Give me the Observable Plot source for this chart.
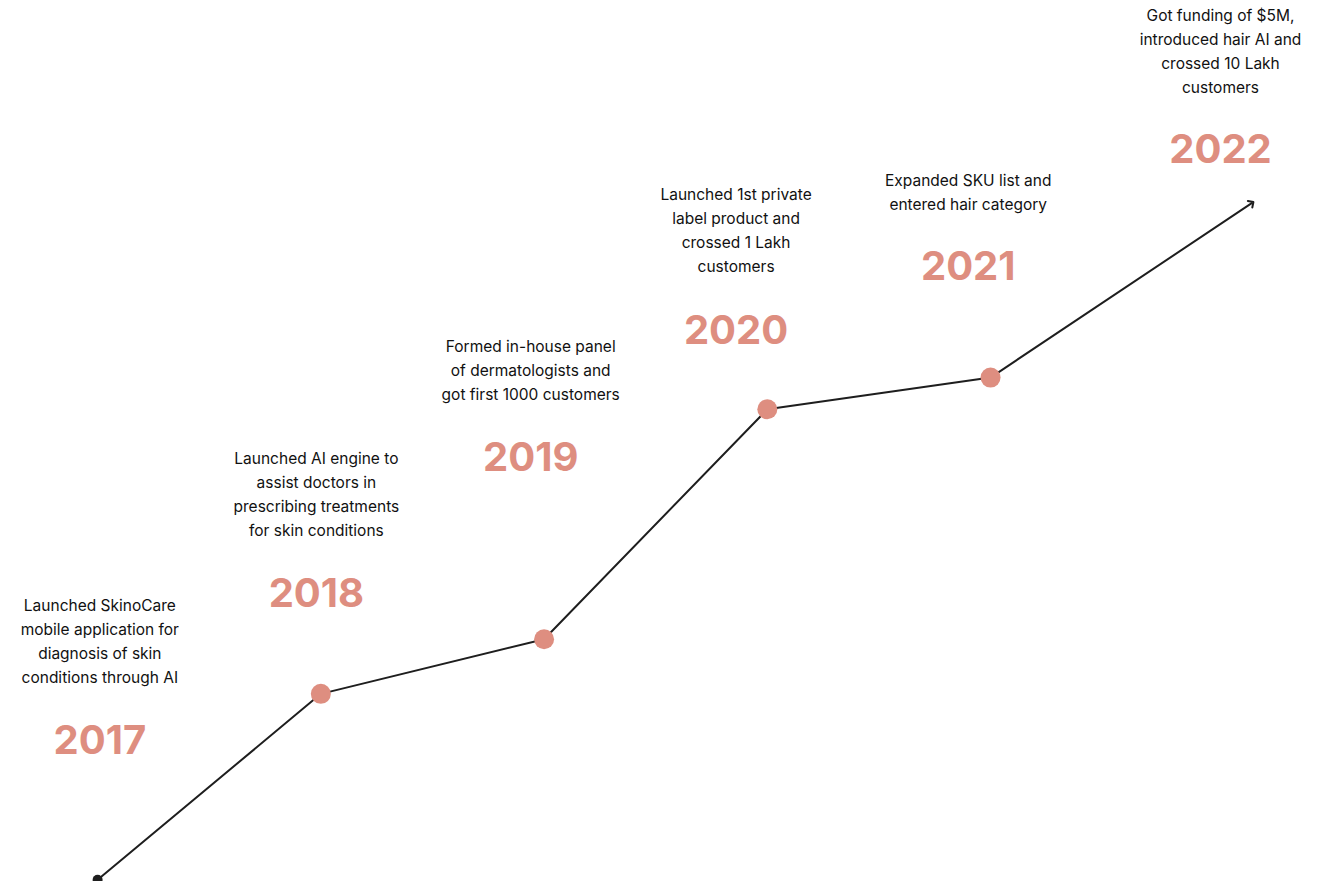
<!DOCTYPE html>
<html><head><meta charset="utf-8">
<script src="https://cdn.jsdelivr.net/npm/d3@7"></script>
<script src="https://cdn.jsdelivr.net/npm/@observablehq/plot@0.6"></script>
<style>body{margin:0;background:#fff}</style>
</head><body><div id="chart"></div>
<script>
// path points: year position and growth score (0-100)
var pathYears = [2017, 2018, 2019, 2020, 2021, 2022.17];
var pathScore = [0.2, 21.3, 27.5, 53.6, 57.2, 77];

var milestoneYears = [2018, 2019, 2020, 2021];
var milestoneScore = [21.3, 27.5, 53.6, 57.2];

var labelYears = ["2017", "2018", "2019", "2020", "2021", "2022"];
var labelAt = [2017.01, 2017.98, 2018.94, 2019.86, 2020.9, 2022.03];
var labelScore = [15.9, 32.6, 48, 62.5, 69.7, 83];
var descScore = [27.5, 44.2, 58.2, 74.1, 78.5, 94.5];
var descriptions = [
  "Launched SkinoCare\nmobile application for\ndiagnosis of skin\nconditions through AI",
  "Launched AI engine to\nassist doctors in\nprescribing treatments\nfor skin conditions",
  "Formed in-house panel\nof dermatologists and\ngot first 1000 customers",
  "Launched 1st private\nlabel product and\ncrossed 1 Lakh\ncustomers",
  "Expanded SKU list and\nentered hair category",
  "Got funding of $5M,\nintroduced hair AI and\ncrossed 10 Lakh\ncustomers"
];

var path = pathYears.map(function(y, i) { return {year: y, score: pathScore[i]}; });
var dots = milestoneYears.map(function(y, i) { return {year: y, score: milestoneScore[i]}; });
var labels = labelYears.map(function(t, i) {
  return {year: labelAt[i], label: t, score: labelScore[i], desc: descriptions[i], dscore: descScore[i]};
});

var salmon = "#de8e80";

var plot = Plot.plot({
  width: 1320, height: 881,
  margin: 0,
  x: {domain: [2016.565, 2022.478], axis: null},
  y: {domain: [0, 100], axis: null},
  style: {fontFamily: "Poppins, Inter, 'Noto Sans', sans-serif", background: "#fff"},
  marks: [
    Plot.line(path, {x: "year", y: "score", stroke: "#1e1e1e", strokeWidth: 2, markerEnd: "arrow"}),
    Plot.dot(path.slice(0, 1), {x: "year", y: "score", r: 5, fill: "#1e1e1e"}),
    Plot.dot(dots, {x: "year", y: "score", r: 10, fill: salmon}),
    Plot.text(labels, {x: "year", y: "score", text: "label", fill: salmon, fontSize: 40, fontWeight: 700, fontFamily: "Inter, sans-serif"}),
    Plot.text(labels, {x: "year", y: "dscore", text: "desc", fill: "#111", fontSize: 15.5, lineHeight: 1.55, fontFamily: "Inter, sans-serif"})
  ]
});
document.getElementById("chart").appendChild(plot);
</script></body></html>
